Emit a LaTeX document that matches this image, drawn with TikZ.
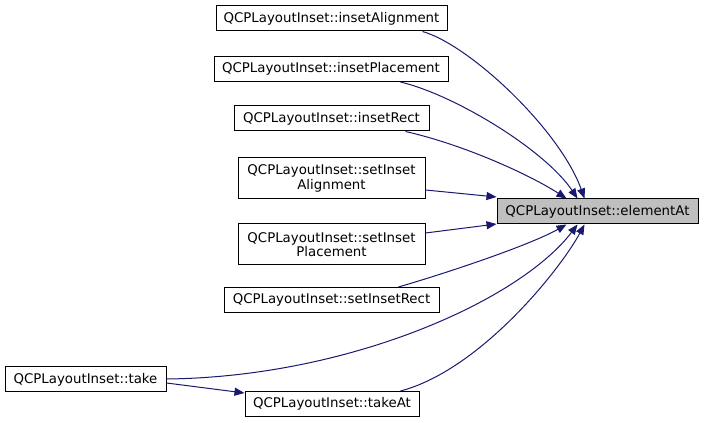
\documentclass[tikz,border=0pt]{standalone}
\usepackage{fontspec}
\setmainfont{DejaVu Sans}
\usetikzlibrary{arrows.meta,positioning,calc}
\definecolor{edgeblue}{RGB}{25,25,112}
\definecolor{rootgray}{RGB}{191,191,191}

\begin{document}
\begin{tikzpicture}[x=0.75pt,y=-0.75pt,
    fn/.style={draw, line width=0.75pt, inner sep=0pt, minimum height=18.75pt,
      font=\fontsize{10}{11}\selectfont, align=center},
    twoline/.style={fn, minimum height=30.75pt},
    call/.style={edgeblue, line width=0.75pt, -{Triangle[length=7.5pt,width=6pt]}}]
    \useasboundingbox[fill=white] (0,0) rectangle (704,423);
    % Callee
    \node[fn, fill=rootgray, minimum width=150.75pt] (ea) at (597.5,211.5) {QCPLayoutInset::elementAt};
    % Callers
    \node[fn, minimum width=173.25pt] (ia) at (331.5,18.5) {QCPLayoutInset::insetAlignment};
    \node[fn, minimum width=175.5pt] (ip) at (331,69) {QCPLayoutInset::insetPlacement};
    \node[fn, minimum width=146.25pt] (ir) at (331.5,118.5) {QCPLayoutInset::insetRect};
    \node[twoline, minimum width=140.25pt] (sia) at (331.5,178.5) {QCPLayoutInset::setInset\\Alignment};
    \node[twoline, minimum width=140.25pt] (sip) at (331.5,244.5) {QCPLayoutInset::setInset\\Placement};
    \node[fn, minimum width=161.25pt] (sir) at (331.5,300) {QCPLayoutInset::setInsetRect};
    \node[fn, minimum width=120.75pt] (tk) at (85.5,379.5) {QCPLayoutInset::take};
    \node[fn, minimum width=130.5pt] (ta) at (332,404) {QCPLayoutInset::takeAt};
    % Calls into elementAt
    \draw[call] ($(ia.south east)+(-25,0)$) .. controls (470,45) and (560,130) .. ($(ea.north)+(-13,0)$);
    \draw[call] ($(ip.south east)+(-48,0)$) .. controls (455,95) and (545,150) .. ($(ea.north)+(-20,0)$);
    \draw[call] ($(ir.south east)+(-24,0)$) .. controls (465,145) and (530,175) .. ($(ea.north)+(-31,0)$);
    \draw[call] ($(sia.east)+(0,11.5)$) -- ($(ea.west)+(0,-14.5)$);
    \draw[call] ($(sip.east)+(0,-11.5)$) -- ($(ea.west)+(0,12.5)$);
    \draw[call] ($(sir.north east)+(-41,0)$) .. controls (450,272) and (530,245) .. ($(ea.south)+(-31,0)$);
    \draw[call] ($(tk.east)+(0,-0.5)$) .. controls (350,377) and (520,300) .. ($(ea.south)+(-20,0)$);
    \draw[call] ($(ta.north east)+(-19,0)$) .. controls (480,370) and (560,270) .. ($(ea.south)+(-13,0)$);
    % take -> takeAt
    \draw[call] ($(tk.east)+(0,3.5)$) -- ($(ta.west)+(0,-11)$);
\end{tikzpicture}
\end{document}
